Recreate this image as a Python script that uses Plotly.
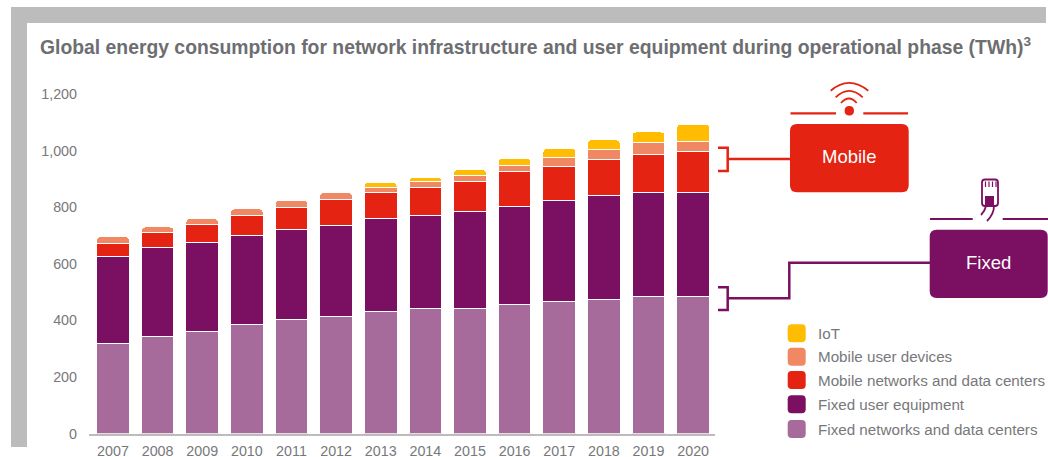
import plotly.graph_objects as go

W, H = 1048, 457
years = ["2007","2008","2009","2010","2011","2012","2013","2014","2015","2016","2017","2018","2019","2020"]
fixed_networks = [318,343,362,385,402,415,430,443,443,455,465,472,483,483]
fixed_user = [307,314,312,315,318,320,329,328,341,347,359,370,370,370]
mobile_networks = [46,52,64,70,78,91,92,98,106,123,120,126,134,145]
mobile_user = [25,21,21,24,25,26,18,21,21,23,32,35,41,35]
iot = [0,0,0,0,0,0,19,15,21,24,32,35,38,60]
series_names = ["Fixed networks and data centers","Fixed user equipment","Mobile networks and data centers","Mobile user devices","IoT"]
series_values = [fixed_networks, fixed_user, mobile_networks, mobile_user, iot]
series_colors = ["#a66a9b","#7b0f62","#e42313","#f18864","#ffbc00"]
y_ticks = [0,200,400,600,800,1000,1200]
title_text = "Global energy consumption for network infrastructure and user equipment during operational phase (TWh)<sup>3</sup>"
GRAY = "#77787b"
FONT = "Liberation Sans"

def X(p): return p / W
def Y(p): return 1 - p / H

def path(*cmds):
    out = []
    for c in cmds:
        if isinstance(c, str):
            out.append(c)
        else:
            out.append(f"{X(c[0]):.5f},{Y(c[1]):.5f}")
    return " ".join(out)

def rrect(x0, y0, x1, y1, r):
    return path("M",(x0+r,y0),"L",(x1-r,y0),"Q",(x1,y0),(x1,y0+r),"L",(x1,y1-r),"Q",(x1,y1),(x1-r,y1),
                "L",(x0+r,y1),"Q",(x0,y1),(x0,y1-r),"L",(x0,y0+r),"Q",(x0,y0),(x0+r,y0),"Z")

shapes = []
def add(d, fill=None, line=None, width=0):
    s = dict(type="path", xref="paper", yref="paper", path=d, layer="above")
    s["fillcolor"] = fill if fill else "rgba(0,0,0,0)"
    s["line"] = dict(color=line if line else "rgba(0,0,0,0)", width=width)
    shapes.append(s)

# grey frame
add(path("M",(11,7),"L",(1046,7),"L",(1046,23),"L",(27,23),"L",(27,447),"L",(11,447),"Z"), fill="#bcbcbc")

RED, PUR = "#e42313", "#7b0f62"
# Mobile box and connector
add(rrect(790,124,908.7,192.3,7), fill=RED)
add(path("M",(718,147.7),"L",(727.7,147.7),"L",(727.7,171),"L",(718,171)), line=RED, width=2.5)
add(path("M",(727.7,159),"L",(790,159)), line=RED, width=2.5)
# Mobile icon
add(path("M",(790.5,113.3),"L",(836,113.3)), line=RED, width=2.2)
add(path("M",(863.3,113.3),"L",(908,113.3)), line=RED, width=2.2)
add(path("M",(844.6,110.7),"Q",(844.6,106),(849.3,106),"Q",(854,106),(854,110.7),"Q",(854,115.4),(849.3,115.4),"Q",(844.6,115.4),(844.6,110.7),"Z"), fill=RED)
add(path("M",(841,103),"Q",(849,94),(856.7,103)), line=RED, width=1.8)
add(path("M",(835.7,97.3),"Q",(849,84.5),(862.7,97.3)), line=RED, width=1.8)
add(path("M",(830.7,90.7),"Q",(849,75),(868.3,90.7)), line=RED, width=1.8)
# Fixed box and connector
add(rrect(929.7,229.7,1047.7,298,7), fill=PUR)
add(path("M",(718,287.3),"L",(727.7,287.3),"L",(727.7,310),"L",(718,310)), line=PUR, width=2.5)
add(path("M",(727.7,298.3),"L",(789.3,298.3),"L",(789.3,262.7),"L",(930,262.7)), line=PUR, width=2.5)
# Fixed icon
add(path("M",(930,219),"L",(972.7,219)), line=PUR, width=2.2)
add(path("M",(1002.7,219),"L",(1048,219)), line=PUR, width=2.2)
add(rrect(982,179.5,998,206,3), line=PUR, width=1.8)
add(path("M",(985,196),"L",(994,196),"L",(994,205),"L",(985,205),"Z"), fill=PUR)
for px in (985.5, 989, 992.5, 996):
    add(path("M",(px,181.5),"L",(px,187)), line=PUR, width=1.2)
add(path("M",(986,206),"Q",(985,211),(981,215)), line=PUR, width=1.8)
add(path("M",(994,206),"Q",(994,214),(987,221)), line=PUR, width=1.8)

annotations = [
    dict(text=title_text, xref="paper", yref="paper", x=X(37.5), y=Y(46), xanchor="left", yanchor="middle", showarrow=False,
         font=dict(family=FONT, size=19.35, color="#6d6e71", weight="bold")),
    dict(text="Mobile", xref="paper", yref="paper", x=X(849.5), y=Y(157), xanchor="center", yanchor="middle", showarrow=False, font=dict(family=FONT, size=18.5, color="white")),
    dict(text="Fixed", xref="paper", yref="paper", x=X(988.5), y=Y(262.5), xanchor="center", yanchor="middle", showarrow=False, font=dict(family=FONT, size=18.5, color="white")),
]
# legend, top to bottom
legend_y = [333.3, 356.7, 380, 404.3, 429]
for i, py in enumerate(legend_y):
    k = len(series_names) - 1 - i
    add(rrect(787.7, py-9, 805.7, py+9, 4), fill=series_colors[k])
    annotations.append(dict(text=series_names[k], xref="paper", yref="paper", x=X(816), y=Y(py), xanchor="left", yanchor="middle",
                            showarrow=False, font=dict(family=FONT, size=15.2, color=GRAY)))

fig = go.Figure()
for name, vals, col in zip(series_names, series_values, series_colors):
    fig.add_bar(x=years, y=vals, name=name, marker=dict(color=col, line=dict(color="white", width=1)), showlegend=False)

fig.update_layout(
    width=W, height=H, barmode="stack", bargap=0.27, barcornerradius=4,
    margin=dict(l=0, r=0, t=0, b=0), paper_bgcolor="white", plot_bgcolor="white",
    font=dict(family=FONT, size=14.3, color=GRAY),
    shapes=shapes, annotations=annotations,
    xaxis=dict(domain=[X(89), X(715)], range=[-0.537, 13.49], type="category", showgrid=False, automargin=False,
               showline=True, linecolor="#bcbcbc", linewidth=2, ticks="", ticklabelstandoff=3,
               tickfont=dict(size=14.3, color=GRAY)),
    yaxis=dict(domain=[Y(433.5), Y(94)], range=[0, 1200], tickvals=y_ticks, tickformat=",", showgrid=False,
               automargin=False, zeroline=False, showline=False, ticks="", ticklabelstandoff=11,
               tickfont=dict(size=14.3, color=GRAY)),
)
fig.write_html("out.html", config=dict(displayModeBar=False),
               post_script="document.documentElement.style.margin='0';document.body.style.margin='0';document.body.style.overflow='hidden';var g=document.getElementById('{plot_id}');g.style.position='absolute';g.style.left='0';g.style.top='0';")
